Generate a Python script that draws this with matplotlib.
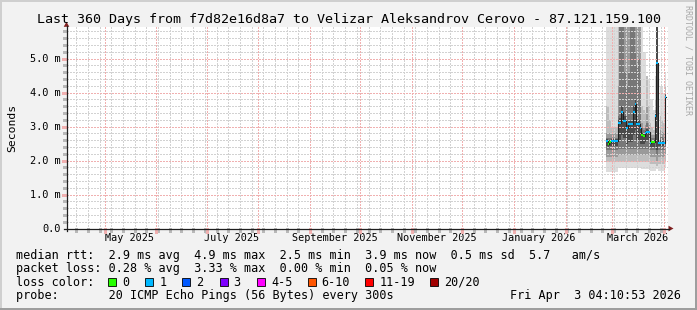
import matplotlib
matplotlib.use("Agg")
import matplotlib.pyplot as plt
import matplotlib.dates as mdates
import pandas as pd
from matplotlib.patches import Rectangle, Polygon

plt.rcParams['font.family'] = ['DejaVu Sans Mono']

W, H = 697, 310
T = 6.5  # smoke beyond the top of the canvas

start = pd.Timestamp("2025-04-08 04:10:53")
end = pd.Timestamp("2026-04-03 04:10:53")
times = pd.date_range("2026-02-25 06:00", periods=36, freq="D")

# median RTT (ms) per day
median = [2.56, 2.50, 2.53, 2.56, 2.56, 2.56, 2.56,
          3.10, 3.10, 3.44, 3.16, 3.16, 2.95, 3.06, 3.06, 3.06, 3.44, 3.65, 3.08, 3.08, 2.95,
          2.74, 2.72, 2.80, 2.85, 2.83, 2.51, 2.53, 2.53, 3.32, 4.88,
          2.51, 2.51, 2.51, 2.51, 3.86]
# loss bin per day (0 -> 0 lost, 1 -> 1 lost)
loss = [1, 0, 0, 1, 1, 1, 1,
        1, 1, 1, 1, 1, 1, 1, 1, 1, 1, 1, 1, 1, 1,
        0, 0, 1, 1, 1, 1, 0, 0, 1, 1,
        1, 1, 1, 1, 1]

# smoke bands (outer -> inner), ms
b1_lo = [1.65]*7 + [1.78]*14 + [1.75, 1.75, 1.75, 1.75, 1.75, 1.70, 1.70, 1.70, 1.70, 1.75, 1.68, 1.68, 1.68, 1.70, 1.80]
b1_hi = [T]*7 + [T]*14 + [T, 5.2, 5.2, 4.5, 4.4, 3.8, 3.8, 3.5, 4.5, T, 2.6, 4.2, 4.2, 4.0, 4.6]
b2_lo = [1.95]*7 + [1.95]*14 + [1.95, 1.95, 1.95, 1.95, 1.95, 1.90, 1.90, 1.90, 1.90, 1.85, 1.90, 1.90, 1.90, 1.90, 2.00]
b2_hi = [3.6, 3.6, 3.2, 3.0, 3.0, 3.0, 3.0] + [T]*14 + [3.6, 3.5, 3.4, 4.5, 3.6, 3.1, 3.0, 2.9, 3.8, T, 2.56, 3.3, 3.2, 3.1, 4.2]
b3_lo = [2.10]*7 + [2.15]*14 + [2.15, 2.15, 2.15, 2.15, 2.15, 2.10, 2.10, 2.10, 2.10, 2.00, 2.10, 2.10, 2.10, 2.10, 2.20]
b3_hi = [2.8]*7 + [4.2] + [T]*13 + [3.1, 3.0, 3.05, 3.6, 3.1, 2.8, 2.75, 2.75, 3.5, T, 2.54, 2.9, 2.85, 2.8, 4.0]
b4_lo = [2.30]*7 + [2.35]*14 + [2.35, 2.35, 2.35, 2.35, 2.35, 2.30, 2.30, 2.30, 2.30, 2.15, 2.30, 2.30, 2.30, 2.30, 2.40]
b4_hi = [2.65]*7 + [3.3, T, T, T, 4.6, 4.2, 4.6, T, T, T, 5.2, 4.8, 5.0, 4.4] + \
        [2.95, 2.9, 2.95, 3.1, 3.0, 2.65, 2.65, 2.65, 3.4, T, 2.52, 2.7, 2.7, 2.65, 3.95]
b5_lo = [2.42, 2.40, 2.42, 2.44, 2.44, 2.44, 2.44,
         2.60, 2.60, 2.75, 2.65, 2.65, 2.50, 2.55, 2.55, 2.55, 2.75, 2.90, 2.60, 2.60, 2.50,
         2.50, 2.50, 2.55, 2.60, 2.60, 2.40, 2.40, 2.40, 2.80, 2.30,
         2.42, 2.42, 2.42, 2.42, 3.00]
b5_hi = [2.62, 2.58, 2.60, 2.62, 2.62, 2.62, 2.62,
         3.20, 3.25, 3.60, 3.30, 3.30, 3.05, 3.15, 3.15, 3.20, 3.60, 3.80, 3.20, 3.20, 3.05,
         2.82, 2.80, 2.88, 2.92, 2.90, 2.58, 2.58, 2.60, 3.38, T,
         2.52, 2.60, 2.60, 2.58, 3.92]
band_colors = ["#dddddd", "#bdbdbd", "#9a9a9a", "#777777", "#4a4a4a"]

loss_colors = ["#26ff00", "#00b8ff", "#0059ff", "#7e00ff", "#ff00ff", "#ff5500", "#ff0000", "#a10000"]
loss_labels = ["0", "1", "2", "3", "4-5", "6-10", "11-19", "20/20"]

y_ticks = [0, 1, 2, 3, 4, 5]
y_labels = ["0.0", "1.0 m", "2.0 m", "3.0 m", "4.0 m", "5.0 m"]
month_labels = ["May 2025", "July 2025", "September 2025", "November 2025", "January 2026", "March 2026"]
month_label_dates = ["2025-05-16", "2025-07-16", "2025-09-16", "2025-11-16", "2026-01-16", "2026-03-16"]

title = "Last 360 Days from f7d82e16d8a7 to Velizar Aleksandrov Cerovo - 87.121.159.100"
legend_rtt = "median rtt:  2.9 ms avg  4.9 ms max  2.5 ms min  3.9 ms now  0.5 ms sd  5.7   am/s"
legend_loss = "packet loss: 0.28 % avg  3.33 % max  0.00 % min  0.05 % now"
legend_probe = "probe:       20 ICMP Echo Pings (56 Bytes) every 300s"
stamp = "Fri Apr  3 04:10:53 2026"

fig = plt.figure(figsize=(W / 100, H / 100), dpi=100)
fig.patch.set_facecolor("#f2f2f2")

left, right, top, bottom = 66.5, 667.8, 27.3, 228.5
px_per_ms = 34.0
ax = fig.add_axes([left / W, 1 - bottom / H, (right - left) / W, (bottom - top) / H])
ax.set_facecolor("white")
x0, x1 = mdates.date2num(start), mdates.date2num(end)
ax.set_xlim(x0, x1)
ymax = (bottom - top) / px_per_ms
ax.set_ylim(0, ymax)
for s in ax.spines.values():
    s.set_visible(False)

days_per_px = (x1 - x0) / (right - left)
ms_per_px = 1.0 / px_per_ms

# grid (crisp, pixel dotted)
minor_c = "#d2d2d2"
major_c = "#f0b0b0"
tick_minor_c = "#b8b8b8"
dot = (0, (1, 1))
gkw = dict(lw=1.0, ls=dot, zorder=3, antialiased=False)
tkw = dict(lw=1.0, clip_on=False, zorder=3, antialiased=False)
yv = [round(0.2 * k, 1) for k in range(1, 30)]
for v in yv:
    if v >= ymax:
        break
    if abs(v - round(v)) > 1e-6:
        ax.axhline(v, color=minor_c, **gkw)
        ax.plot([x0 - 2 * days_per_px, x0], [v, v], color=tick_minor_c, **tkw)
weeks = pd.date_range("2025-04-14", end, freq="7D")
for d in weeks:
    xd = mdates.date2num(d)
    ax.axvline(xd, color=minor_c, **gkw)
    ax.plot([xd, xd], [0, -2 * ms_per_px], color=tick_minor_c, **tkw)
months = pd.date_range("2025-05-01", end, freq="MS")
for d in months:
    xd = mdates.date2num(d)
    ax.axvline(xd, color=major_c, **gkw)
    ax.plot([xd, xd], [0, -3 * ms_per_px], color=major_c, **tkw)
for v in y_ticks[1:]:
    ax.axhline(v, color=major_c, **gkw)
    ax.plot([x0 - 3 * days_per_px, x0], [v, v], color=major_c, **tkw)

# smoke
tx = list(mdates.date2num(list(times) + [times[-1] + pd.Timedelta(days=1)]))
def ext(a):
    return list(a) + [a[-1]]
bands = [(b1_lo, b1_hi), (b2_lo, b2_hi), (b3_lo, b3_hi), (b4_lo, b4_hi), (b5_lo, b5_hi)]
for (lo, hi), c in zip(bands, band_colors):
    ax.fill_between(tx, ext(lo), ext(hi), step="post", color=c, lw=0, zorder=2, antialiased=False)

# median line
ax.step(tx, ext(median), where="post", color="#202020", lw=0.8, zorder=4)
for i, m in enumerate(median):
    ax.plot([tx[i], tx[i + 1]], [m, m], color=loss_colors[loss[i]], lw=1.5,
            solid_capstyle="butt", zorder=5)

# ticks / labels
ax.set_yticks(y_ticks)
ax.set_yticklabels(y_labels, fontsize=7.4)
ax.set_xticks(mdates.date2num(pd.to_datetime(month_label_dates)))
ax.set_xticklabels(month_labels, fontsize=7.3)
ax.tick_params(axis="y", length=0, pad=4.2)
ax.tick_params(axis="x", length=0, pad=3.0)
ax.set_ylabel("Seconds", fontsize=8.2, labelpad=9)

# overlay in pixel coordinates for axes, arrows, legend, frame
ov = fig.add_axes([0, 0, 1, 1], facecolor="none")
ov.set_xlim(0, W)
ov.set_ylim(H, 0)
ov.axis("off")
ov.set_zorder(5)

axis_c = "#1f1f1f"
arrow_c = "#801f1f"
ov.plot([63.5, 669], [bottom, bottom], color=axis_c, lw=0.9)
ov.plot([left, left], [bottom + 2.5, top - 1], color=axis_c, lw=0.9)
ov.add_patch(Polygon([[668.5, bottom - 2.8], [673.5, bottom], [668.5, bottom + 2.8]], closed=True, color=arrow_c, lw=0))
ov.add_patch(Polygon([[left - 2.8, top - 0.5], [left, top - 5.5], [left + 2.8, top - 0.5]], closed=True, color=arrow_c, lw=0))

ov.text(349, 19.5, title, fontsize=9.6, ha="center", va="center")
ov.text(688, 60, "RRDTOOL / TOBI OETIKER", fontsize=6, rotation=270, ha="center", va="center", color="#a8a8a8")

fs = 8.5
ov.text(16, 255, legend_rtt, fontsize=fs, va="center")
ov.text(16, 268.5, legend_loss, fontsize=fs, va="center")
ov.text(16, 282, "loss color:", fontsize=fs, va="center")
ov.text(16, 296, legend_probe, fontsize=fs, va="center")
ov.text(681, 296, stamp, fontsize=fs, va="center", ha="right")

box_x = [108, 145.3, 182.2, 219.6, 257, 307.6, 365.3, 430.2]
for bx, c, lab in zip(box_x, loss_colors, loss_labels):
    ov.add_patch(Rectangle((bx, 278), 8, 8, facecolor=c, edgecolor="#000000", lw=0.6))
    ov.text(bx + 14, 282, lab, fontsize=fs, va="center")

# frame shading
ov.add_patch(Rectangle((0, 0), W, 1.5, color="#cfcfcf", lw=0))
ov.add_patch(Rectangle((0, 0), 1.5, H, color="#cfcfcf", lw=0))
ov.add_patch(Rectangle((0, H - 2), W, 2, color="#9e9e9e", lw=0))
ov.add_patch(Rectangle((W - 2, 0), 2, H, color="#9e9e9e", lw=0))

fig.savefig("out.png", dpi=100, facecolor=fig.get_facecolor())
